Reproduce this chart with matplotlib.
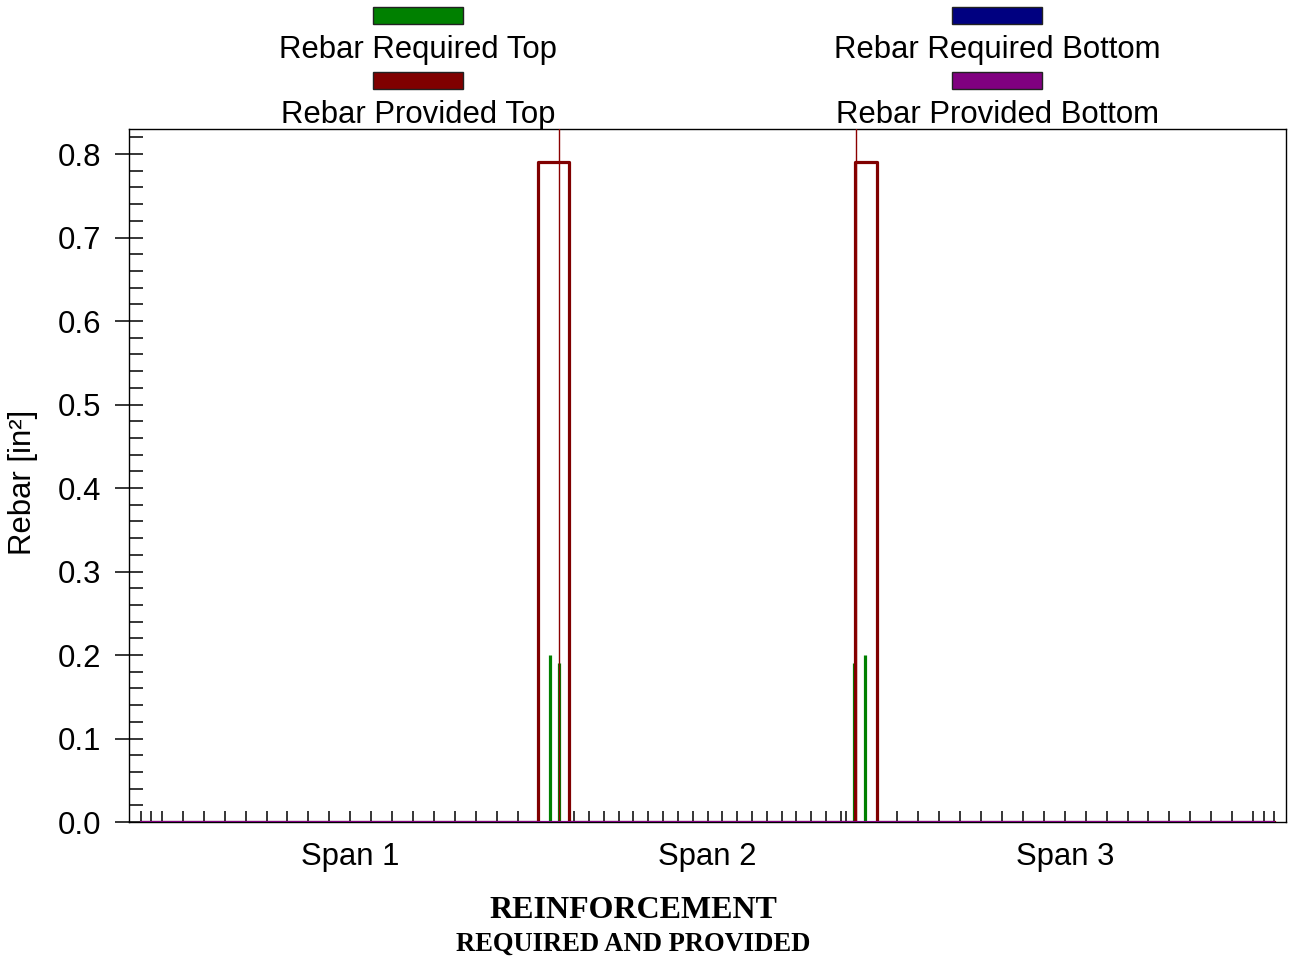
import numpy as np
import matplotlib
matplotlib.use("Agg")
import matplotlib.pyplot as plt
from matplotlib.patches import Rectangle
from matplotlib.transforms import blended_transform_factory

plt.rcParams['font.family'] = ['Liberation Sans', 'DejaVu Sans']

# Beam geometry (ft)
span_lengths = [24.0, 17.0, 24.0]
span_labels = ["Span 1", "Span 2", "Span 3"]
face_offset = 0.56

# Rebar required top: stations and areas (in^2)
req_top_x = [23.45, 24.0, 40.88, 41.55]
req_top_v = [0.20, 0.19, 0.19, 0.20]

# Rebar provided top: stepped profile
prov_top_x = [0.0, 22.8, 22.8, 24.56, 24.56, 40.95, 40.95, 42.2, 42.2, 65.0]
prov_top_v = [0.0, 0.0, 0.79, 0.79, 0.0, 0.0, 0.79, 0.79, 0.0, 0.0]

# Bottom reinforcement (all zero)
bot_x = [0.0, 65.0]
req_bot_v = [0.0, 0.0]
prov_bot_v = [0.0, 0.0]

y_ticks = [0.0, 0.1, 0.2, 0.3, 0.4, 0.5, 0.6, 0.7, 0.8]

c_req_top = "#008000"
c_prov_top = "#800000"
c_req_bot = "#000080"
c_prov_bot = "#800080"

FS = 22.4

W, H = 1293, 957
fig = plt.figure(figsize=(W / 100, H / 100), dpi=100)
ax = fig.add_axes([129 / W, 1 - 822 / H, (1286 - 129) / W, (822 - 129) / H])

supports = np.concatenate([[0.0], np.cumsum(span_lengths)])
total = supports[-1]
margin = 12 / (1133 / total)
ax.set_xlim(-margin, total + margin)
ax.set_ylim(0, 0.83)

# data
ax.vlines(req_top_x, 0, req_top_v, color=c_req_top, lw=2.3, zorder=2)
ax.plot(prov_top_x, prov_top_v, color=c_prov_top, lw=2.3, zorder=3)
for s in supports[1:-1]:
    ax.axvline(s, color="#8b0000", lw=1.0, zorder=4)
ax.plot(bot_x, req_bot_v, color=c_req_bot, lw=1.5, zorder=5)
ax.plot(bot_x, prov_bot_v, color=c_prov_bot, lw=1.5, zorder=6)

# station ticks along the beam
stations = []
for s, L in zip(supports[:-1], span_lengths):
    stations += [s, s + face_offset]
    stations += [s + k * 0.05 * L for k in range(1, 20)]
    stations += [s + L - face_offset, s + L]
ax.set_xticks(sorted(set(np.round(stations, 4))))
ax.tick_params(axis='x', which='major', direction='in', length=8, width=1.1,
               color='black', labelbottom=False)

# y axis
ax.set_yticks(y_ticks)
ax.set_yticklabels([f"{v:.1f}" for v in y_ticks])
ax.set_yticks(np.arange(0, 0.83, 0.02), minor=True)
ax.tick_params(axis='y', which='major', direction='inout', length=20, width=1.1,
               labelsize=FS, pad=10)
ax.tick_params(axis='y', which='minor', direction='in', length=10, width=1.1)
ax.set_ylabel("Rebar [in²]", fontsize=FS)
ax.yaxis.set_label_coords(-0.079, 0.49)

for sp in ax.spines.values():
    sp.set_linewidth(1.0)
    sp.set_color('black')

# span labels
trans = blended_transform_factory(ax.transData, ax.transAxes)
for i, lab in enumerate(span_labels):
    mid = 0.5 * (supports[i] + supports[i + 1])
    ax.text(mid, -0.0505, lab, transform=trans, ha='center', va='center',
            fontsize=FS)

# legend
legend_items = [
    ("Rebar Required Top", c_req_top, 418, 0),
    ("Rebar Provided Top", c_prov_top, 418, 1),
    ("Rebar Required Bottom", c_req_bot, 997, 0),
    ("Rebar Provided Bottom", c_prov_bot, 997, 1),
]
for lab, col, cx, row in legend_items:
    top_px = 7 + row * 65
    fig.patches.append(Rectangle(((cx - 45) / W, 1 - (top_px + 17) / H), 90 / W, 17 / H,
                                 transform=fig.transFigure, facecolor=col,
                                 edgecolor='#222222', lw=1.0))
    fig.text(cx / W, 1 - (50 + row * 65) / H, lab, ha='center', va='center',
             fontsize=FS)

# title
fig.text(633 / W, 1 - 911 / H, "REINFORCEMENT", ha='center', va='center',
         fontsize=23, fontweight='bold', family='Liberation Serif')
fig.text(633.5 / W, 1 - 944 / H, "REQUIRED AND PROVIDED", ha='center', va='center',
         fontsize=19.2, fontweight='bold', family='Liberation Serif')

fig.savefig("out.png", dpi=100)
